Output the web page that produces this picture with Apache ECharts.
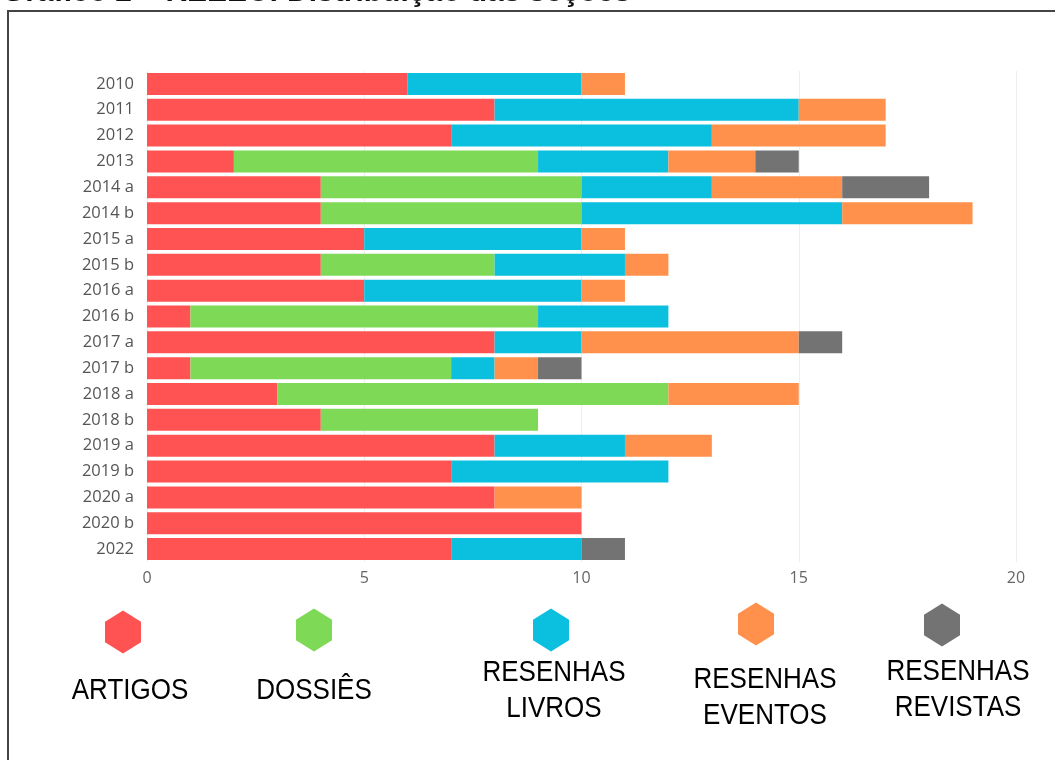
<!DOCTYPE html>
<html>
<head>
<meta charset="utf-8">
<script src="https://cdn.jsdelivr.net/npm/echarts@6/dist/echarts.min.js"></script>
<style>
  html, body { margin: 0; padding: 0; background: #fff; }
  #chart { width: 1055px; height: 760px; }
</style>
</head>
<body>
<div id="chart"></div>
<script>
// Edições (categorias do eixo vertical)
const categories = ['2010', '2011', '2012', '2013', '2014 a', '2014 b', '2015 a', '2015 b',
  '2016 a', '2016 b', '2017 a', '2017 b', '2018 a', '2018 b', '2019 a', '2019 b',
  '2020 a', '2020 b', '2022'];

// Quantidade de textos por seção em cada edição
const artigos         = [6, 8, 7, 2, 4, 4, 5, 4, 5, 1, 8, 1, 3, 4, 8, 7, 8, 10, 7];
const dossies         = [0, 0, 0, 7, 6, 6, 0, 4, 0, 8, 0, 6, 9, 5, 0, 0, 0, 0, 0];
const resenhasLivros  = [4, 7, 6, 3, 3, 6, 5, 3, 5, 3, 2, 1, 0, 0, 3, 5, 0, 0, 3];
const resenhasEventos = [1, 2, 4, 2, 3, 3, 1, 1, 1, 0, 5, 1, 3, 0, 2, 0, 2, 0, 0];
const resenhasRevistas= [0, 0, 0, 1, 2, 0, 0, 0, 0, 0, 1, 1, 0, 0, 0, 0, 0, 0, 1];

const xTicks = [0, 5, 10, 15, 20];

const seriesNames = ['ARTIGOS', 'DOSSIÊS', 'RESENHAS LIVROS', 'RESENHAS EVENTOS', 'RESENHAS REVISTAS'];
const seriesData = [artigos, dossies, resenhasLivros, resenhasEventos, resenhasRevistas];
const colors = ['#ff5353', '#7ed957', '#0bbfdf', '#ff914d', '#737373'];

// Legenda: hexágono + rótulo (uma ou duas linhas)
const legendLayout = [
  { hx: 123, hy: 632, tx: 130, ty: [691] },
  { hx: 314, hy: 630, tx: 314, ty: [691] },
  { hx: 551, hy: 630, tx: 554, ty: [673, 709] },
  { hx: 756, hy: 624, tx: 765, ty: [680, 716] },
  { hx: 942, hy: 625, tx: 958, ty: [672, 708] }
];

function hexagon(cx, cy, w, h, color) {
  const hw = w / 2, hh = h / 2, k = h * 0.26;
  return {
    type: 'polygon',
    shape: { points: [[cx, cy - hh], [cx + hw, cy - hh + k], [cx + hw, cy + hh - k],
                      [cx, cy + hh], [cx - hw, cy + hh - k], [cx - hw, cy - hh + k]] },
    style: { fill: color }
  };
}

const graphics = [];
// moldura
graphics.push({
  type: 'rect', shape: { x: 8, y: 11, width: 1100, height: 800 },
  style: { fill: 'none', stroke: '#444', lineWidth: 2 }
});
// título
graphics.push({
  type: 'text', left: 2, top: -22,
  style: { text: 'Gráfico 2 – REEEC: Distribuição das seções', fill: '#111',
    font: 'bold 30px "Liberation Sans", Arial, sans-serif' }
});

seriesNames.forEach((name, i) => {
  const L = legendLayout[i];
  graphics.push(hexagon(L.hx, L.hy, 36, 43, colors[i]));
  const words = L.ty.length === 2 ? ['RESENHAS', name.replace('RESENHAS ', '')] : [name];
  words.forEach((w, j) => {
    graphics.push({
      type: 'text', x: L.tx, y: L.ty[j], scaleY: 1.15, originX: 0, originY: 0,
      style: { text: w, fill: '#000', align: 'center', verticalAlign: 'middle',
        font: '26px "Liberation Sans", Arial, sans-serif' }
    });
  });
});

const chart = echarts.init(document.getElementById('chart'));
chart.setOption({
  animation: false,
  grid: { left: 147, right: 39, top: 71, bottom: 198 },
  xAxis: {
    type: 'value', min: xTicks[0], max: xTicks[xTicks.length - 1], interval: 5,
    axisLine: { show: false }, axisTick: { show: false },
    splitLine: { lineStyle: { color: '#eeeeee', width: 1 } },
    axisLabel: { color: '#666', fontSize: 16, margin: 8, fontFamily: '"Open Sans", sans-serif' }
  },
  yAxis: {
    type: 'category', data: categories, inverse: true,
    axisLine: { show: false }, axisTick: { show: false },
    axisLabel: { color: '#555', fontSize: 16.5, margin: 13, fontFamily: '"Open Sans", sans-serif' }
  },
  series: seriesNames.map((name, i) => ({
    name, type: 'bar', stack: 'total', data: seriesData[i],
    barWidth: 22, itemStyle: { color: colors[i] }
  })),
  graphic: graphics
});
</script>
</body>
</html>
